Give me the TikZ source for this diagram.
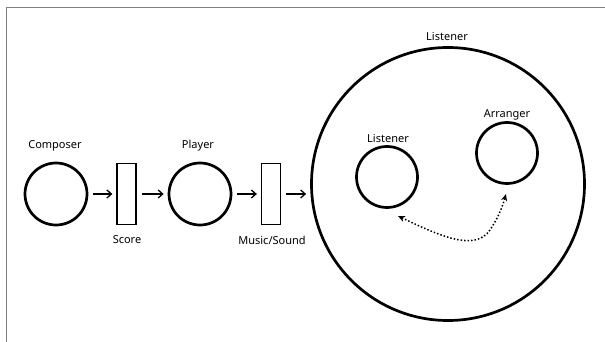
\documentclass[tikz,border=0pt]{standalone}
\usepackage{fontspec}
\setmainfont{Noto Sans}
\usetikzlibrary{arrows.meta}
\begin{document}
\begin{tikzpicture}[x=1pt,y=-1pt,
  lbl/.style={font=\fontsize{11}{13}\selectfont, inner sep=0pt},
  person/.style={circle, draw, line width=2.7pt, minimum size=#1, inner sep=0pt},
  medium/.style={rectangle, draw, line width=1.3pt, minimum width=19pt, minimum height=61pt, inner sep=0pt},
  flow/.style={-{Straight Barb[length=4.5pt,width=8pt,line width=1.3pt]}, line width=1.2pt, shorten <=5pt, shorten >=4pt},
  swap/.style={{Stealth[length=7pt,width=6pt]}-{Stealth[length=7pt,width=6pt]}, line width=1.5pt, dotted}
]
\useasboundingbox (0,0) rectangle (605,342);
\draw[gray, line width=1pt] (6,342) -- (6,8) -- (605,8);
\node[person=62pt] (comp) at (56,194) {};
\node[lbl] (compl) at (55,146) {Composer};
\node[medium] (score) at (126.5,194) {};
\node[lbl] (scorel) at (127,240) {Score};
\node[person=62pt] (play) at (200,194) {};
\node[lbl] (playl) at (198,146) {Player};
\node[medium] (music) at (271,194) {};
\node[lbl] (musicl) at (272,240) {Music/Sound};
\node[person=273pt] (big) at (448,184) {};
\node[lbl] (bigl) at (447,37) {Listener};
\node[person=61pt] (lis) at (387,177) {};
\node[lbl] (lisl) at (388,139) {Listener};
\node[person=61pt] (arr) at (507,153) {};
\node[lbl] (arrl) at (507,115) {Arranger};
\draw[flow] (comp.east) -- (score.west);
\draw[flow] (score.east) -- (play.west);
\draw[flow] (play.east) -- (music.west);
\draw[flow] (music.east) -- (music.east -| big.west);
\coordinate (p1) at (398,216);
\coordinate (p2) at (506,194);
\draw[swap] (p1) .. controls (440,236) and (475,252) .. (490,230) .. controls (498,218) and (502,208) .. (p2);
\end{tikzpicture}
\end{document}
